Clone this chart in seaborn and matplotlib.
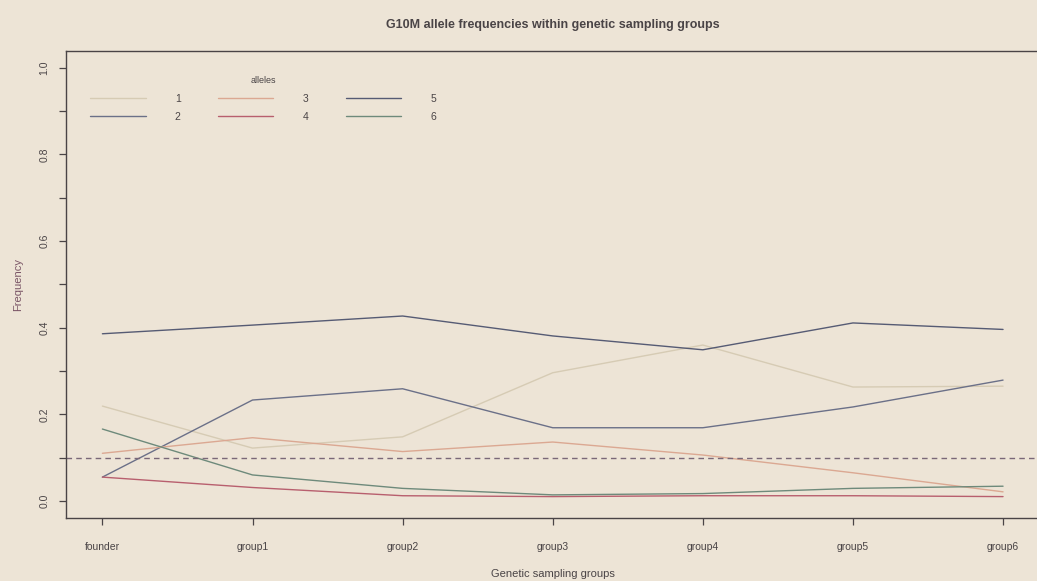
import numpy as np
import pandas as pd
import matplotlib
matplotlib.use("Agg")
import matplotlib.pyplot as plt
import seaborn as sns

# values
groups = ["founder", "group1", "group2", "group3", "group4", "group5", "group6"]
allele_1 = [0.219, 0.122, 0.148, 0.296, 0.360, 0.263, 0.265]
allele_2 = [0.055, 0.233, 0.259, 0.169, 0.169, 0.217, 0.279]
allele_3 = [0.110, 0.146, 0.114, 0.136, 0.106, 0.065, 0.021]
allele_4 = [0.055, 0.031, 0.012, 0.010, 0.012, 0.012, 0.010]
allele_5 = [0.386, 0.406, 0.427, 0.381, 0.349, 0.411, 0.396]
allele_6 = [0.166, 0.060, 0.029, 0.014, 0.017, 0.029, 0.034]
ref_line = 0.1

alleles = ["1", "2", "3", "4", "5", "6"]
colors = ["#d6cbb4", "#6b7088", "#dba892", "#b85f6e", "#565b74", "#6e8a7b"]

series = [allele_1, allele_2, allele_3, allele_4, allele_5, allele_6]
df = pd.DataFrame({
    "group": groups * len(alleles),
    "pos": list(range(len(groups))) * len(alleles),
    "freq": [v for s in series for v in s],
    "allele": [a for a in alleles for _ in groups],
})

paper = "#ede4d6"
ink = "#4a4446"

sns.set_theme(style="ticks")
plt.rcParams["font.family"] = ["Liberation Sans", "DejaVu Sans"]

fig = plt.figure(figsize=(10.37, 5.81), dpi=100, facecolor=paper)
ax = fig.add_axes([0.064, 0.108, 0.938, 0.805], facecolor=paper)

sns.lineplot(data=df, x="pos", y="freq", hue="allele", hue_order=alleles,
             palette=dict(zip(alleles, colors)), linewidth=1.0, ax=ax)
ax.axhline(ref_line, color="#7a6878", linestyle=(0, (4, 3)), linewidth=1.0)

ax.set_xlim(-0.24, len(groups) - 1 + 0.24)
ax.set_ylim(-0.04, 1.04)
ax.set_xticks(range(len(groups)))
ax.set_xticklabels(groups, fontsize=7.5, color=ink)
yt = np.round(np.arange(0, 1.01, 0.1), 1)
ax.set_yticks(yt)
ax.set_yticklabels([f"{v:.1f}" if i % 2 == 0 else "" for i, v in enumerate(yt)],
                   fontsize=7.5, color=ink, rotation=90, va="center")
ax.tick_params(axis="both", direction="out", length=5, width=0.9, color=ink)
ax.tick_params(axis="x", pad=12)
ax.tick_params(axis="y", pad=7)
for sp in ax.spines.values():
    sp.set_visible(True)
    sp.set_color(ink)
    sp.set_linewidth(1.0)

ax.set_xlabel("Genetic sampling groups", fontsize=8, color=ink, labelpad=12)
ax.set_ylabel("Frequency", fontsize=8, color="#7a5566", labelpad=12)
ax.set_title("G10M allele frequencies within genetic sampling groups",
             fontsize=9, fontweight="bold", color=ink, pad=16)

leg = ax.legend(title="alleles", ncol=3, frameon=False, loc="upper left",
                bbox_to_anchor=(0.015, 0.965), fontsize=7.5, title_fontsize=6.5,
                handlelength=5.3, handletextpad=2.8, columnspacing=3.6,
                labelspacing=0.8)
for t in leg.get_texts():
    t.set_color(ink)
leg.get_title().set_color(ink)

fig.savefig("out.png", dpi=100, facecolor=paper)
